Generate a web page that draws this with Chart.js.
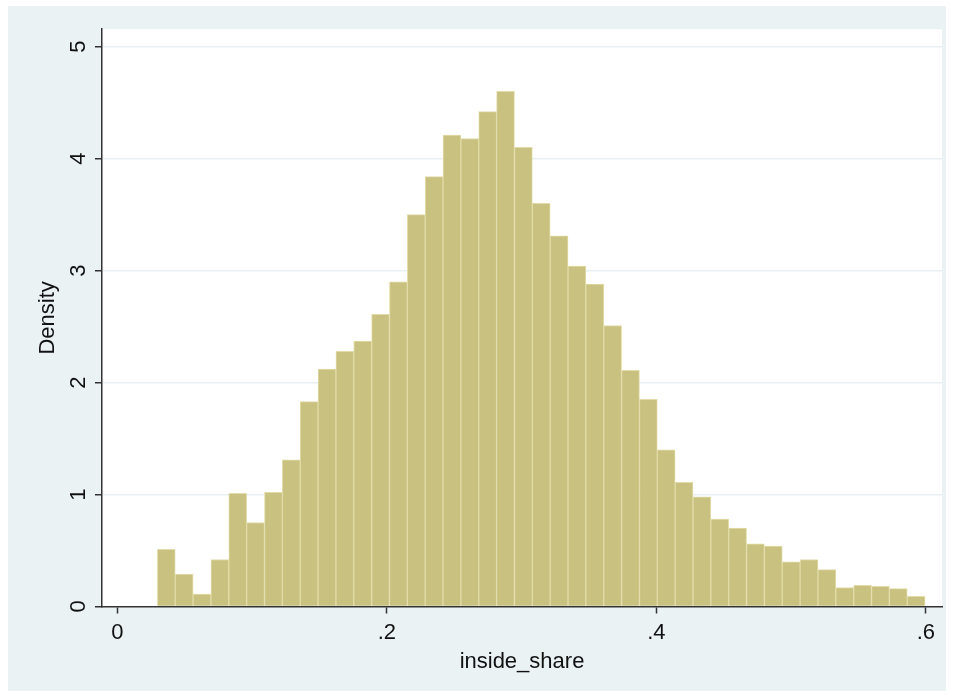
<!DOCTYPE html>
<html>
<head>
<meta charset="utf-8">
<script src="https://cdn.jsdelivr.net/npm/chart.js@4"></script>
<style>
  body { margin: 0; background: #fff; }
  #wrap { position: absolute; left: 8px; top: 6px; width: 938px; height: 685px; background: #eaf2f3; }
</style>
</head>
<body>
<div id="wrap"><canvas id="myChart" width="938" height="685"></canvas></div>
<script>
// histogram bins (inside_share), first bin edge and bin width
const binStart = 0.0297;
const binWidth = 0.01325;

// density per bin
const density = [
  0.51, 0.29, 0.11, 0.42, 1.01, 0.75, 1.02, 1.31, 1.83, 2.12,
  2.28, 2.37, 2.61, 2.90, 3.50, 3.84, 4.21, 4.18, 4.42, 4.60,
  4.10, 3.60, 3.31, 3.04, 2.88, 2.51, 2.11, 1.85, 1.40, 1.11,
  0.98, 0.78, 0.70, 0.56, 0.54, 0.40, 0.42, 0.33, 0.17, 0.19,
  0.18, 0.16, 0.09,
];

const xTicks = [0, 0.2, 0.4, 0.6];
const xTickLabels = ["0", ".2", ".4", ".6"];
const yTicks = [0, 1, 2, 3, 4, 5];

const points = density.map((d, i) => ({ x: binStart + binWidth * (i + 0.5), y: d }));

const font = { family: "'Liberation Sans', Arial, sans-serif", size: 22 };

// white plot region like stata
const plotBg = {
  id: "plotBg",
  beforeDraw(chart) {
    const a = chart.chartArea;
    chart.ctx.save();
    chart.ctx.fillStyle = "#ffffff";
    chart.ctx.fillRect(a.left, a.top, a.right - a.left, a.bottom - a.top);
    chart.ctx.restore();
  },
};

new Chart(document.getElementById("myChart"), {
  type: "bar",
  data: {
    datasets: [
      {
        label: "Density",
        data: points,
        backgroundColor: "rgb(201,193,127)",
        borderColor: "rgb(226,220,168)",
        borderWidth: 1,
        barPercentage: 1,
        categoryPercentage: 1,
        grouped: false,
      },
    ],
  },
  options: {
    responsive: false,
    animation: false,
    layout: { padding: { top: 23, right: 4, left: 0, bottom: 0 } },
    plugins: { legend: { display: false }, tooltip: { enabled: false } },
    scales: {
      x: {
        type: "linear",
        min: -0.0114,
        max: 0.612,
        offset: false,
        afterBuildTicks: (s) => { s.ticks = xTicks.map((v) => ({ value: v })); },
        afterFit: (s) => { s.height = 84.5; },
        ticks: {
          color: "#111",
          font: font,
          padding: 6,
          maxRotation: 0,
          callback: (v) => xTickLabels[xTicks.indexOf(v)],
        },
        grid: { offset: false, drawOnChartArea: false, drawTicks: true, tickLength: 7, tickColor: "#333", tickWidth: 1.5 },
        border: { display: true, color: "#333", width: 1.5 },
        title: { display: true, text: "inside_share", color: "#111", font: font, padding: { top: 0, bottom: 16 } },
      },
      y: {
        min: 0,
        max: 5.156,
        afterBuildTicks: (s) => { s.ticks = yTicks.map((v) => ({ value: v })); },
        afterFit: (s) => { s.width = 94; },
        ticks: {
          color: "#111",
          font: font,
          padding: 10,
          minRotation: 90,
          maxRotation: 90,
          crossAlign: "center",
        },
        grid: {
          color: (c) => (c.tick && c.tick.value === 0 ? "rgba(0,0,0,0)" : "rgb(232,240,243)"),
          lineWidth: 1.5,
          drawTicks: true,
          tickLength: 7,
          tickColor: "#333",
          tickWidth: 1.5,
        },
        border: { display: true, color: "#333", width: 1.5 },
        title: { display: true, text: "Density", color: "#111", font: font, padding: { top: 27, bottom: 0 } },
      },
    },
  },
  plugins: [plotBg],
});
</script>
</body>
</html>
